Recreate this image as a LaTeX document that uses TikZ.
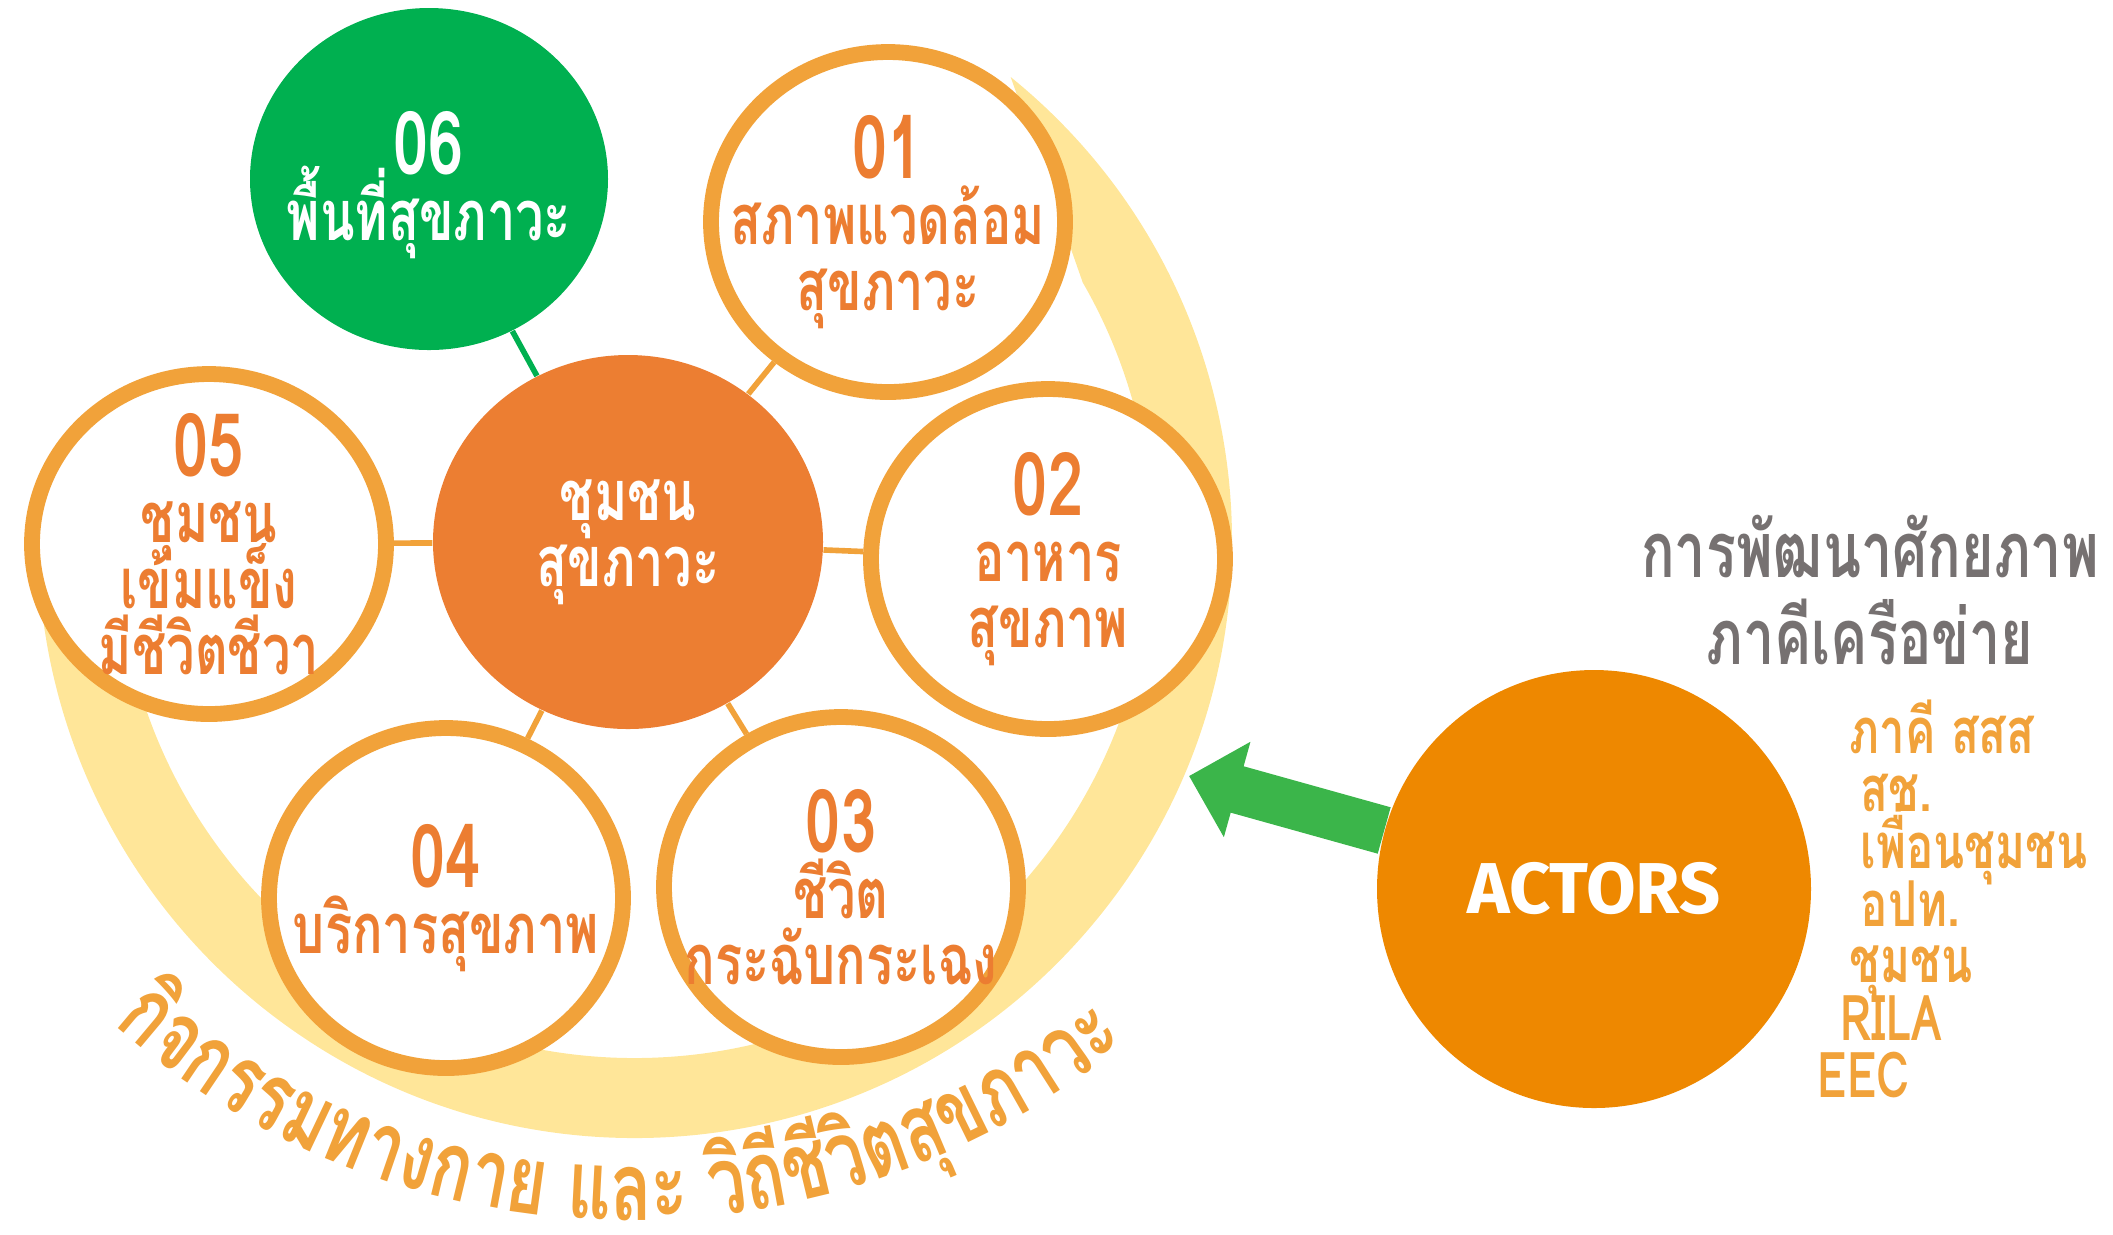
\documentclass[tikz,border=0pt]{standalone}
\usepackage{fontspec}
\newfontfamily\thaifont[Script=Thai,FakeStretch=0.72]{Loma}
\newfontfamily\dinfont{Fira Sans}
\usetikzlibrary{shapes.geometric,arrows.meta,decorations.text}

\definecolor{ringorange}{HTML}{F1A23A}
\definecolor{huborange}{HTML}{EC7E32}
\definecolor{txtorange}{HTML}{EC7D31}
\definecolor{leafgreen}{HTML}{00B050}
\definecolor{bandyellow}{HTML}{FFE699}
\definecolor{actororange}{HTML}{EE8800}
\definecolor{arrowgreen}{HTML}{3BB54A}
\definecolor{titlegray}{HTML}{767171}

\newcommand{\circfont}{\thaifont\bfseries\fontsize{20}{18.8}\selectfont\lineskiplimit=-20pt}
\newcommand{\numfont}{\fontsize{25}{18.8}\selectfont}
\newcommand{\curvetxt}{\thaifont\bfseries\fontsize{27}{27}\selectfont}

\tikzset{
  ring/.style={ellipse, draw=ringorange, line width=4.5pt, fill=white,
    minimum width=3.54cm, minimum height=3.40cm, inner sep=0pt},
  leaf/.style={ellipse, fill=leafgreen, minimum width=3.58cm, minimum height=3.42cm, inner sep=0pt},
  hub/.style={ellipse, fill=huborange, minimum width=3.90cm, minimum height=3.74cm, inner sep=0pt},
  link/.style={ringorange, line width=1.6pt},
  lbl/.style={align=center, text=txtorange, font=\circfont, inner sep=0pt},
}

\begin{document}
\begin{tikzpicture}
\useasboundingbox (0,0) rectangle (21.13,-12.34);

% yellow band behind the circles
\coordinate (bandctr) at (6.35,-5.41);
\fill[bandyellow] ([shift={(51:5.97)}]bandctr) arc[start angle=51, end angle=-175, radius=5.97]
  -- ([shift={(-175:5.17)}]bandctr) arc[start angle=-175, end angle=30, radius=5.17] -- cycle;

% circles
\node[leaf] (n06) at (4.29,-1.79) {};
\node[ring] (n01) at (8.88,-2.22) {};
\node[ring] (n05) at (2.09,-5.44) {};
\node[ring] (n02) at (10.48,-5.59) {};
\node[ring] (n04) at (4.46,-8.98) {};
\node[ring] (n03) at (8.41,-8.87) {};
\node[hub] (hub) at (6.28,-5.42) {};

% links to the hub
\draw[link, leafgreen] (hub) -- (n06);
\draw[link] (hub) -- (n01);
\draw[link] (hub) -- (n02);
\draw[link] (hub) -- (n03);
\draw[link] (hub) -- (n04);
\draw[link] (hub) -- (n05);

% labels
\node[lbl, text=white] (t06) at ([yshift=-0.06cm]n06) {{\numfont 06}\\พื้นที่สุขภาวะ};
\node[lbl] (t01) at (n01) {{\numfont 01}\\สภาพแวดล้อม\\สุขภาวะ};
\node[lbl] (t02) at (n02) {{\numfont 02}\\อาหาร\\สุขภาพ};
\node[lbl] (t03) at (n03) {{\numfont 03}\\ชีวิต\\กระฉับกระเฉง};
\node[lbl] (t04) at (n04) {{\numfont 04}\\บริการสุขภาพ};
\node[lbl] (t05) at (n05) {{\numfont 05}\\ชุมชน\\เข้มแข็ง\\มีชีวิตชีวา};
\node[lbl, text=white] (thub) at (hub) {ชุมชน\\สุขภาวะ};

% curved caption
\coordinate (arcctr) at (6.30,-4.40);
\path[decorate, decoration={text along path, text align=center, text color=ringorange,
  text={|\curvetxt|{กิ}จกรรมทางกาย และ {วิ}{ถี}{ชี}{วิ}ต{สุ}ขภาวะ}}]
  ([shift={(-136:7.80)}]arcctr) arc[start angle=-136, end angle=-46, radius=7.80];

% actors
\node[ellipse, fill=actororange, minimum width=4.34cm, minimum height=4.38cm, inner sep=0pt,
  text=white, font=\dinfont\bfseries\fontsize{20.5}{20}\selectfont] (actors) at (15.94,-8.89) {ACTORS};
\coordinate (tip) at (11.89,-7.76);
\draw[arrowgreen, line width=13.7pt, -{Triangle[length=0.5cm, width=0.96cm]}] (actors) -- (tip);

\node[align=center, text=titlegray, font=\thaifont\bfseries\fontsize{22}{25}\selectfont] (head) at (18.70,-5.90)
  {การพัฒนาศักยภาพ\\ภาคีเครือข่าย};

\foreach \txt/\x/\y [count=\i] in {ภาคี สสส/18.49/-7.53, สช./18.60/-8.11, เพื่อนชุมชน/18.60/-8.68,
  อปท./18.60/-9.26, ชุมชน/18.49/-9.82, RILA/18.40/-10.40, EEC/18.17/-10.97}
  \node[anchor=base west, inner sep=0pt, text=ringorange, font=\thaifont\bfseries\fontsize{18}{18}\selectfont]
    (m\i) at (\x,\y) {\txt};
\end{tikzpicture}
\end{document}
